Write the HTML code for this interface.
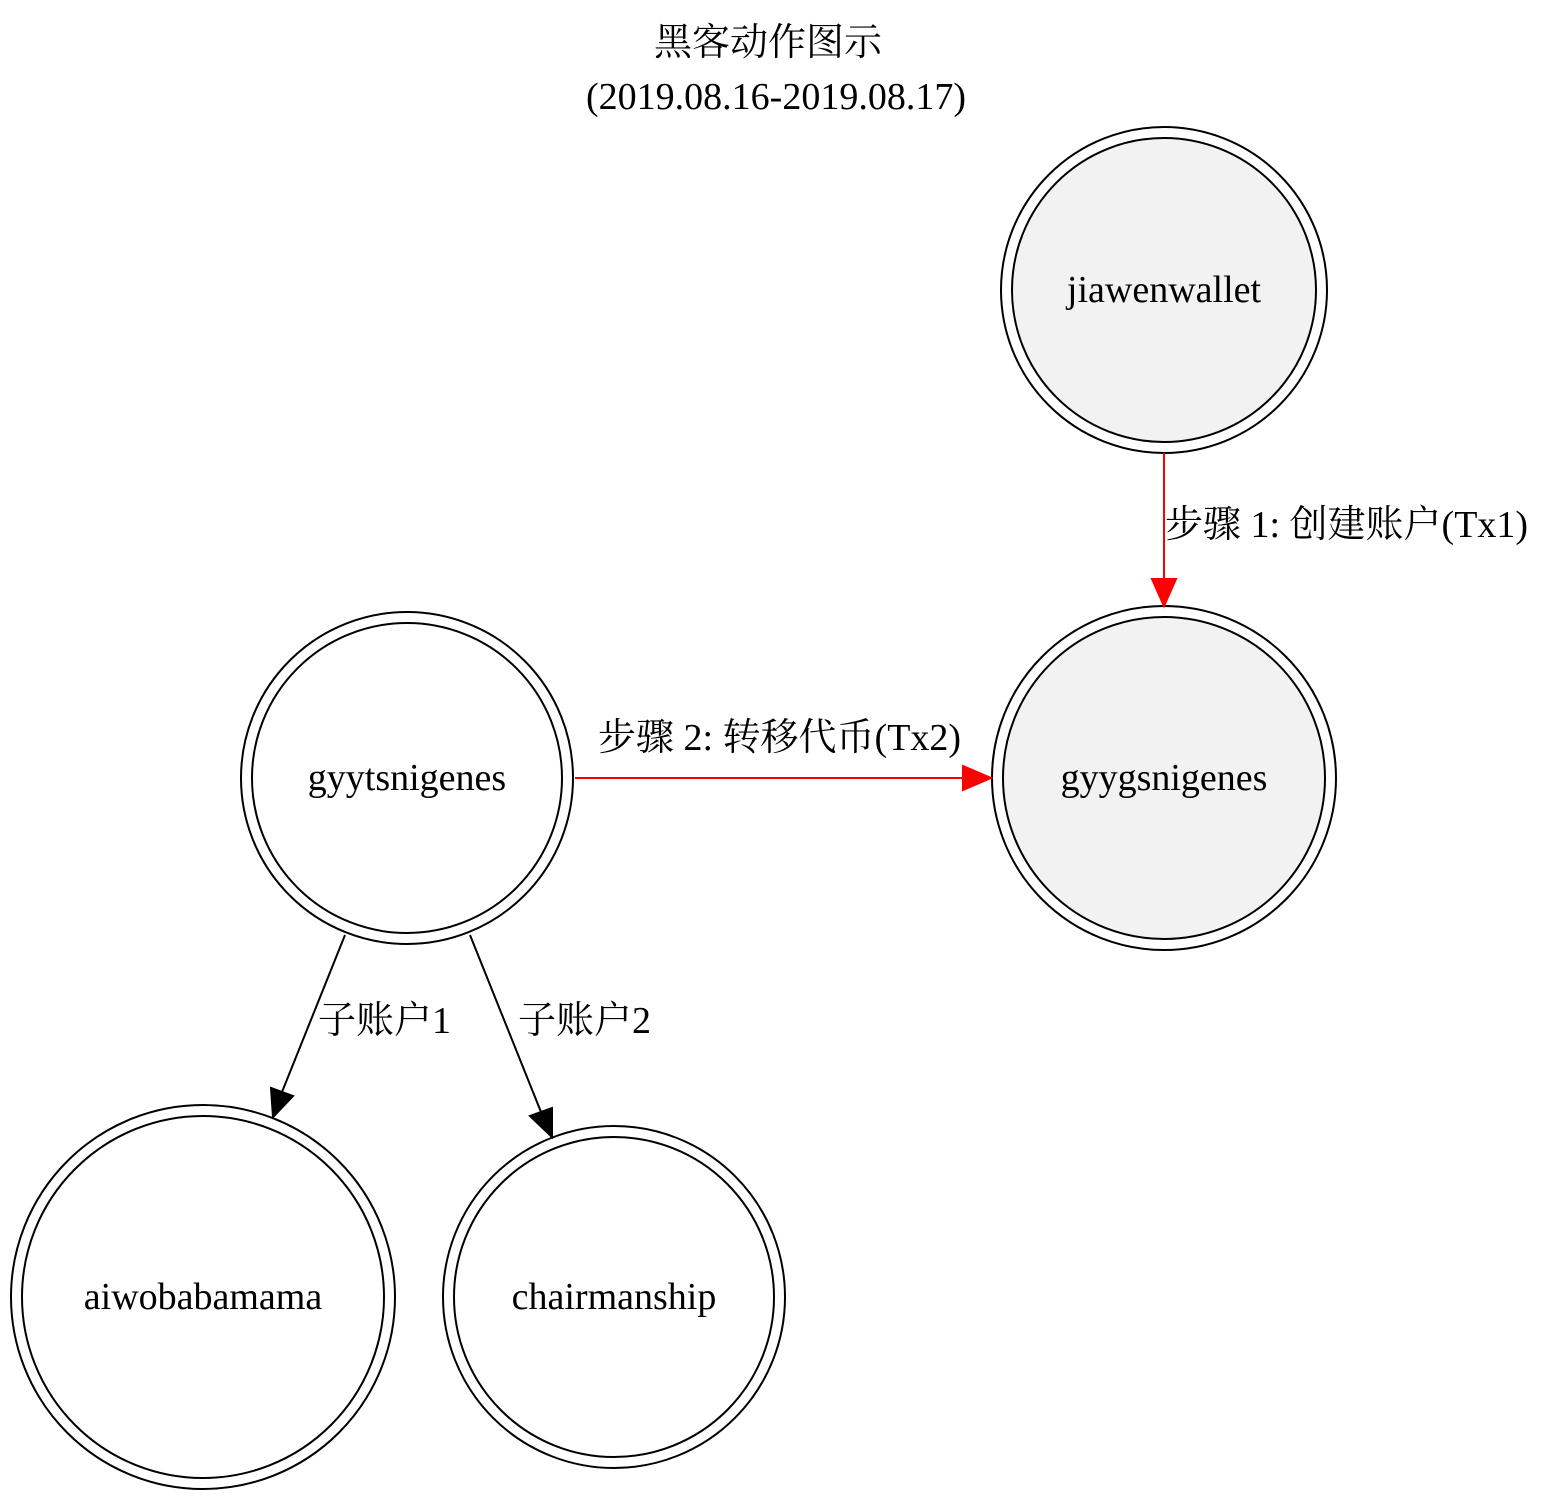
<!DOCTYPE html>
<html><head><meta charset="utf-8"><style>
html,body{margin:0;padding:0;background:#fff;}
svg{display:block;}
text{font-family:"Liberation Serif","Noto Serif CJK SC","Noto Sans CJK SC",serif;font-size:38px;fill:#000;}
</style></head><body>
<svg width="1545" height="1500" viewBox="0 0 1545 1500" xmlns="http://www.w3.org/2000/svg">
<text x="768" y="55" text-anchor="middle">黑客动作图示</text>
<text x="776" y="109" text-anchor="middle">(2019.08.16-2019.08.17)</text>

<g stroke="#000" stroke-width="2">
<circle cx="1164" cy="290" r="163" fill="#fff"/>
<circle cx="1164" cy="290" r="152" fill="#f2f2f2"/>
<circle cx="1164" cy="778" r="172" fill="#fff"/>
<circle cx="1164" cy="778" r="161" fill="#f2f2f2"/>
<circle cx="407" cy="778" r="166" fill="#fff"/>
<circle cx="407" cy="778" r="155" fill="#fff"/>
<circle cx="203" cy="1297" r="192" fill="#fff"/>
<circle cx="203" cy="1297" r="181" fill="#fff"/>
<circle cx="614" cy="1297" r="171" fill="#fff"/>
<circle cx="614" cy="1297" r="160" fill="#fff"/>
</g>

<text x="1164" y="302" text-anchor="middle">jiawenwallet</text>
<text x="1164" y="790" text-anchor="middle">gyygsnigenes</text>
<text x="407" y="790" text-anchor="middle">gyytsnigenes</text>
<text x="203" y="1309" text-anchor="middle">aiwobabamama</text>
<text x="614" y="1309" text-anchor="middle">chairmanship</text>

<line x1="1164" y1="453" x2="1164" y2="580" stroke="red" stroke-width="2"/>
<polygon points="1152,579 1176,579 1164,606" fill="red" stroke="red" stroke-width="2"/>
<text x="1165" y="537">步骤 1: 创建账户(Tx1)</text>

<line x1="575" y1="778" x2="964" y2="778" stroke="red" stroke-width="2"/>
<polygon points="963,766 963,790 991,778" fill="red" stroke="red" stroke-width="2"/>
<text x="598" y="750">步骤 2: 转移代币(Tx2)</text>

<line x1="345" y1="935" x2="282" y2="1092" stroke="#000" stroke-width="2"/>
<polygon points="271,1088 293,1096 273,1117" fill="#000" stroke="#000" stroke-width="2"/>
<text x="318" y="1033">子账户1</text>

<line x1="470" y1="935" x2="541" y2="1112" stroke="#000" stroke-width="2"/>
<polygon points="530,1116 552,1108 552,1137" fill="#000" stroke="#000" stroke-width="2"/>
<text x="518" y="1033">子账户2</text>
</svg>
</body></html>
